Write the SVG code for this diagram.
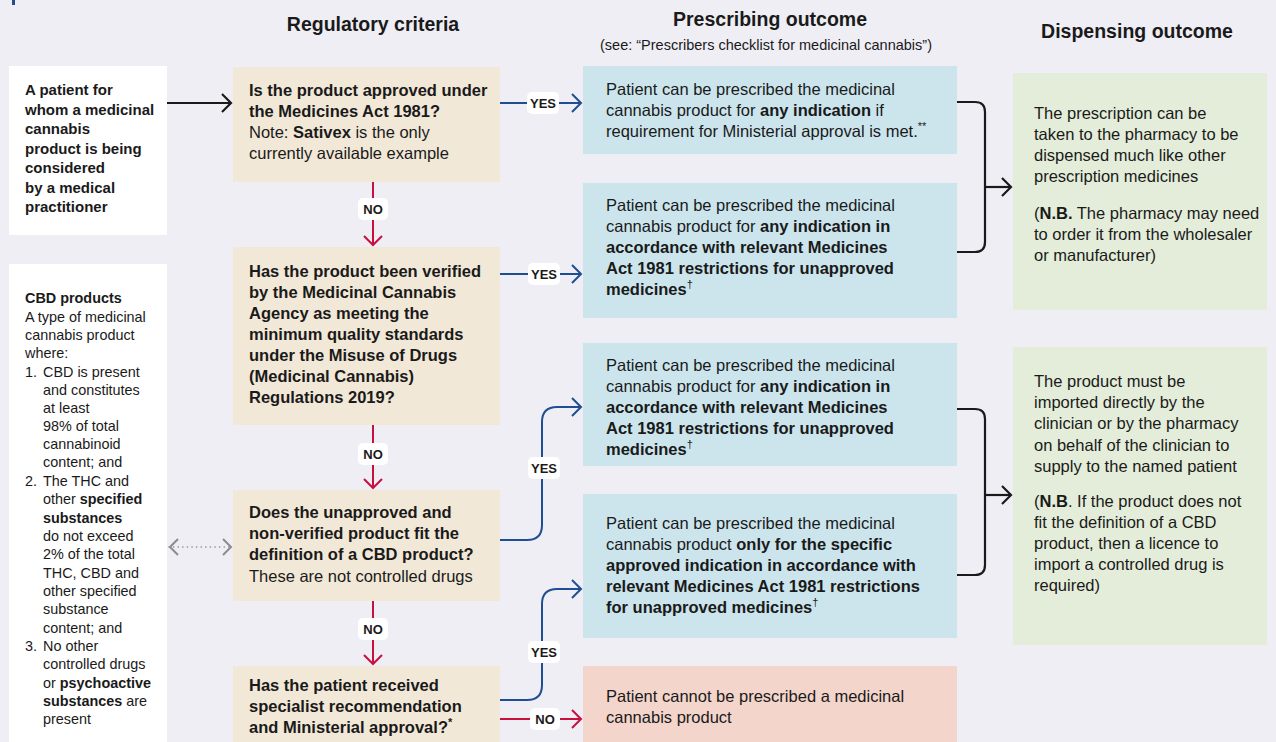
<svg xmlns="http://www.w3.org/2000/svg" width="1276" height="742" viewBox="0 0 1276 742">
<style>
text{font-family:"Liberation Sans",Arial,sans-serif;fill:#1a1a1a}
.h{font-size:19.5px;font-weight:bold;text-anchor:middle}
.sub{font-size:14.5px;text-anchor:middle}
.t{font-size:16.5px}
.p{font-size:15px;font-weight:bold}
.c{font-size:14.4px}
.b{font-weight:bold}
.sup{font-size:11px}
.lab{font-size:13px;font-weight:bold;text-anchor:middle}
.beige{fill:#f2e8d7}
.blue{fill:#cce5ed}
.green{fill:#e4edd9}
.pink{fill:#f4d5cb}
.white{fill:#ffffff}
.lb{fill:#ffffff}
.cb{fill:none;stroke:#1f4e93;stroke-width:2}
.cr{fill:none;stroke:#c8103e;stroke-width:2}
.ck{fill:none;stroke:#1a1a1a;stroke-width:2.2}
.cg{fill:none;stroke:#8c8c8c;stroke-width:1.6;stroke-dasharray:0.1 4.5;stroke-linecap:round}
</style>
<defs>
<marker id="mb" viewBox="0 0 11 20" refX="10" refY="10" markerWidth="11" markerHeight="20" orient="auto" markerUnits="userSpaceOnUse" overflow="visible"><path d="M1,1 L10,10 L1,19" fill="none" stroke="#1f4e93" stroke-width="2"/></marker>
<marker id="mr" viewBox="0 0 11 20" refX="10" refY="10" markerWidth="11" markerHeight="20" orient="auto" markerUnits="userSpaceOnUse" overflow="visible"><path d="M1,1 L10,10 L1,19" fill="none" stroke="#c8103e" stroke-width="2"/></marker>
<marker id="mk" viewBox="0 0 11 20" refX="10" refY="10" markerWidth="11" markerHeight="20" orient="auto" markerUnits="userSpaceOnUse" overflow="visible"><path d="M1,1 L10,10 L1,19" fill="none" stroke="#1a1a1a" stroke-width="2.2"/></marker>
<marker id="mg" viewBox="0 0 11 20" refX="10" refY="10" markerWidth="11" markerHeight="20" orient="auto-start-reverse" markerUnits="userSpaceOnUse" overflow="visible"><path d="M1,2 L9,10 L1,18" fill="none" stroke="#8c8c8c" stroke-width="2"/></marker>
</defs>
<rect width="1276" height="742" fill="#efeef5"/>
<rect x="12" y="0" width="3" height="5" fill="#1f4e93"/>

<g id="headers">
<text class="h" x="373" y="31">Regulatory criteria</text>
<text class="h" x="770" y="26">Prescribing outcome</text>
<text class="sub" x="766" y="50">(see: “Prescribers checklist for medicinal cannabis”)</text>
<text class="h" x="1137" y="38">Dispensing outcome</text>
</g>

<g id="patient">
<rect class="white" x="9" y="66" width="158" height="169"/>
<text class="p"><tspan x="25" y="95">A patient for</tspan><tspan x="25" y="115">whom a medicinal</tspan><tspan x="25" y="134">cannabis</tspan><tspan x="25" y="154">product is being</tspan><tspan x="25" y="173">considered</tspan><tspan x="25" y="193">by a medical</tspan><tspan x="25" y="212">practitioner</tspan></text>
</g>

<g id="cbd">
<rect class="white" x="9" y="264" width="158" height="478"/>
<text class="c">
<tspan x="25" y="303" class="b">CBD products</tspan>
<tspan x="25" y="322">A type of medicinal</tspan>
<tspan x="25" y="340">cannabis product</tspan>
<tspan x="25" y="358">where:</tspan>
<tspan x="25" y="377">1.</tspan><tspan x="43" y="377">CBD is present</tspan>
<tspan x="43" y="395">and constitutes</tspan>
<tspan x="43" y="413">at least</tspan>
<tspan x="43" y="431">98% of total</tspan>
<tspan x="43" y="449">cannabinoid</tspan>
<tspan x="43" y="467">content; and</tspan>
<tspan x="25" y="486">2.</tspan><tspan x="43" y="486">The THC and</tspan>
<tspan x="43" y="504">other <tspan class="b">specified</tspan></tspan>
<tspan x="43" y="523" class="b">substances</tspan>
<tspan x="43" y="541">do not exceed</tspan>
<tspan x="43" y="559">2% of the total</tspan>
<tspan x="43" y="578">THC, CBD and</tspan>
<tspan x="43" y="596">other specified</tspan>
<tspan x="43" y="614">substance</tspan>
<tspan x="43" y="633">content; and</tspan>
<tspan x="25" y="651">3.</tspan><tspan x="43" y="651">No other</tspan>
<tspan x="43" y="669">controlled drugs</tspan>
<tspan x="43" y="688">or <tspan class="b">psychoactive</tspan></tspan>
<tspan x="43" y="706"><tspan class="b">substances</tspan> are</tspan>
<tspan x="43" y="724">present</tspan>
</text>
</g>

<g id="q1">
<rect class="beige" x="233" y="67" width="267" height="115"/>
<text class="t"><tspan x="249" y="96" class="b">Is the product approved under</tspan><tspan x="249" y="117" class="b">the Medicines Act 1981?</tspan><tspan x="249" y="138">Note: <tspan class="b">Sativex</tspan> is the only</tspan><tspan x="249" y="159">currently available example</tspan></text>
</g>

<g id="q2">
<rect class="beige" x="233" y="247" width="267" height="178"/>
<text class="t b"><tspan x="249" y="277">Has the product been verified</tspan><tspan x="249" y="298">by the Medicinal Cannabis</tspan><tspan x="249" y="319">Agency as meeting the</tspan><tspan x="249" y="340">minimum quality standards</tspan><tspan x="249" y="361">under the Misuse of Drugs</tspan><tspan x="249" y="382">(Medicinal Cannabis)</tspan><tspan x="249" y="403">Regulations 2019?</tspan></text>
</g>

<g id="q3">
<rect class="beige" x="233" y="490" width="267" height="111"/>
<text class="t"><tspan x="249" y="518" class="b">Does the unapproved and</tspan><tspan x="249" y="539" class="b">non-verified product fit the</tspan><tspan x="249" y="560" class="b">definition of a CBD product?</tspan><tspan x="249" y="582">These are not controlled drugs</tspan></text>
</g>

<g id="q4">
<rect class="beige" x="233" y="666" width="267" height="76"/>
<text class="t b"><tspan x="249" y="691">Has the patient received</tspan><tspan x="249" y="712">specialist recommendation</tspan><tspan x="249" y="733">and Ministerial approval?<tspan class="sup" dy="-7">*</tspan></tspan></text>
</g>

<g id="b1">
<rect class="blue" x="583" y="66" width="374" height="88"/>
<text class="t"><tspan x="606" y="95">Patient can be prescribed the medicinal</tspan><tspan x="606" y="116">cannabis product for <tspan class="b">any indication</tspan> if</tspan><tspan x="606" y="137">requirement for Ministerial approval is met.<tspan class="sup" dy="-7">**</tspan></tspan></text>
</g>

<g id="b2">
<rect class="blue" x="583" y="183" width="374" height="135"/>
<text class="t"><tspan x="606" y="211">Patient can be prescribed the medicinal</tspan><tspan x="606" y="232">cannabis product for <tspan class="b">any indication in</tspan></tspan><tspan x="606" y="253" class="b">accordance with relevant Medicines</tspan><tspan x="606" y="274" class="b">Act 1981 restrictions for unapproved</tspan><tspan x="606" y="295"><tspan class="b">medicines</tspan><tspan class="sup" dy="-7">†</tspan></tspan></text>
</g>

<g id="b3">
<rect class="blue" x="583" y="343" width="374" height="123"/>
<text class="t"><tspan x="606" y="371">Patient can be prescribed the medicinal</tspan><tspan x="606" y="392">cannabis product for <tspan class="b">any indication in</tspan></tspan><tspan x="606" y="413" class="b">accordance with relevant Medicines</tspan><tspan x="606" y="434" class="b">Act 1981 restrictions for unapproved</tspan><tspan x="606" y="455"><tspan class="b">medicines</tspan><tspan class="sup" dy="-7">†</tspan></tspan></text>
</g>

<g id="b4">
<rect class="blue" x="583" y="494" width="374" height="144"/>
<text class="t"><tspan x="606" y="529">Patient can be prescribed the medicinal</tspan><tspan x="606" y="550">cannabis product <tspan class="b">only for the specific</tspan></tspan><tspan x="606" y="571" class="b">approved indication in accordance with</tspan><tspan x="606" y="592" class="b">relevant Medicines Act 1981 restrictions</tspan><tspan x="606" y="613"><tspan class="b">for unapproved medicines</tspan><tspan class="sup" dy="-7">†</tspan></tspan></text>
</g>

<g id="r1">
<rect class="pink" x="583" y="666" width="374" height="76"/>
<text class="t"><tspan x="606" y="702">Patient cannot be prescribed a medicinal</tspan><tspan x="606" y="723">cannabis product</tspan></text>
</g>

<g id="g1">
<rect class="green" x="1013" y="73" width="254" height="237"/>
<text class="t"><tspan x="1034" y="119">The prescription can be</tspan><tspan x="1034" y="140">taken to the pharmacy to be</tspan><tspan x="1034" y="161">dispensed much like other</tspan><tspan x="1034" y="182">prescription medicines</tspan><tspan x="1034" y="219">(<tspan class="b">N.B.</tspan> The pharmacy may need</tspan><tspan x="1034" y="240">to order it from the wholesaler</tspan><tspan x="1034" y="261">or manufacturer)</tspan></text>
</g>

<g id="g2">
<rect class="green" x="1013" y="347" width="254" height="298"/>
<text class="t"><tspan x="1034" y="387">The product must be</tspan><tspan x="1034" y="408">imported directly by the</tspan><tspan x="1034" y="429">clinician or by the pharmacy</tspan><tspan x="1034" y="451">on behalf of the clinician to</tspan><tspan x="1034" y="472">supply to the named patient</tspan><tspan x="1034" y="507">(<tspan class="b">N.B</tspan>. If the product does not</tspan><tspan x="1034" y="528">fit the definition of a CBD</tspan><tspan x="1034" y="549">product, then a licence to</tspan><tspan x="1034" y="570">import a controlled drug is</tspan><tspan x="1034" y="591">required)</tspan></text>
</g>

<g id="connectors">
<path class="ck" d="M167,103 H231" marker-end="url(#mk)"/>
<path class="cb" d="M500,103 H581" marker-end="url(#mb)"/>
<path class="cb" d="M500,274 H581" marker-end="url(#mb)"/>
<path class="cb" d="M500,540 H527 Q542,540 542,525 V422 Q542,407 557,407 H581" marker-end="url(#mb)"/>
<path class="cb" d="M500,700 H527 Q542,700 542,685 V604 Q542,589 557,589 H581" marker-end="url(#mb)"/>
<path class="cr" d="M500,719 H581" marker-end="url(#mr)"/>
<path class="cr" d="M373,182 V245" marker-end="url(#mr)"/>
<path class="cr" d="M373,425 V488" marker-end="url(#mr)"/>
<path class="cr" d="M373,601 V664" marker-end="url(#mr)"/>
<path class="ck" d="M957,102 H975 Q985,102 985,112 V242 Q985,252 975,252 H957"/>
<path class="ck" d="M985,187 H1011" marker-end="url(#mk)"/>
<path class="ck" d="M957,409 H975 Q985,409 985,419 V565 Q985,575 975,575 H957"/>
<path class="ck" d="M985,495 H1011" marker-end="url(#mk)"/>
<path class="cg" d="M169,547 H232" marker-start="url(#mg)" marker-end="url(#mg)"/>
<g id="labels">
<rect class="lb" x="527" y="92" width="32" height="22" rx="5"/><text class="lab" x="543" y="108">YES</text>
<rect class="lb" x="528" y="263" width="32" height="22" rx="5"/><text class="lab" x="544" y="279">YES</text>
<rect class="lb" x="528" y="457" width="32" height="22" rx="5"/><text class="lab" x="544" y="473">YES</text>
<rect class="lb" x="528" y="641" width="32" height="22" rx="5"/><text class="lab" x="544" y="657">YES</text>
<rect class="lb" x="530" y="708" width="30" height="22" rx="5"/><text class="lab" x="545" y="724">NO</text>
<rect class="lb" x="358" y="198" width="30" height="22" rx="5"/><text class="lab" x="373" y="214">NO</text>
<rect class="lb" x="358" y="443" width="30" height="22" rx="5"/><text class="lab" x="373" y="459">NO</text>
<rect class="lb" x="358" y="618" width="30" height="22" rx="5"/><text class="lab" x="373" y="634">NO</text>
</g>
</g>
</svg>
